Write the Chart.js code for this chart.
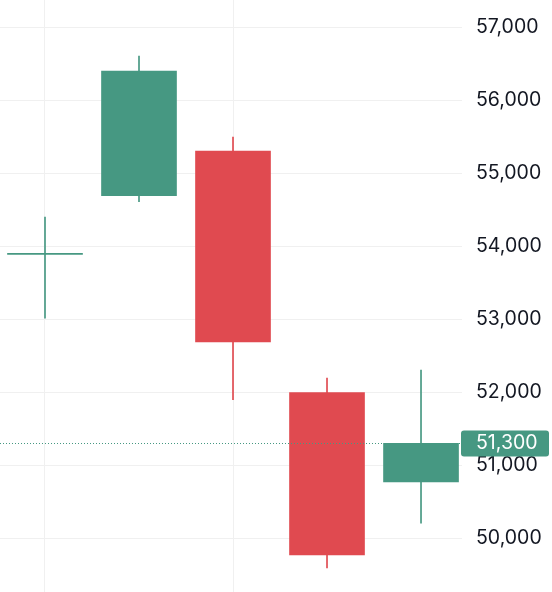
<!DOCTYPE html>
<html>
<head>
<meta charset="utf-8">
<script src="https://cdn.jsdelivr.net/npm/chart.js@4.4.1/dist/chart.umd.min.js"></script>
<style>
  html, body { margin: 0; padding: 0; background: #fff; }
  #wrap { width: 552px; height: 592px; }
</style>
</head>
<body>
<div id="wrap"><canvas id="chart"></canvas></div>
<script>
// candle data
const candleIdx = [0, 1, 2, 3, 4];
const opens  = [53890, 54693, 55305, 51996, 50771];
const highs  = [54401, 56607, 55497, 52193, 52303];
const lows   = [53014, 54611, 51899, 49593, 50208];
const closes = [53890, 56401, 52689, 49771, 51300];
const priceTicks = [50000, 51000, 52000, 53000, 54000, 55000, 56000, 57000];
const gridIdx = [0, 2];
const lastPrice = closes[closes.length - 1];

const upColor = "#469882";
const downColor = "#e04a50";
const colors = candleIdx.map(i => closes[i] >= opens[i] ? upColor : downColor);

Chart.defaults.font.family = "Inter";
Chart.defaults.font.size = 19.5;
Chart.defaults.color = "#131722";

const fmt = v => v.toLocaleString("en-US");

const lastPricePlugin = {
  id: "lastPrice",
  afterDraw(chart) {
    const { ctx, chartArea, scales: { y } } = chart;
    const py = Math.round(y.getPixelForValue(lastPrice)) + 0.5;
    ctx.save();
    ctx.strokeStyle = upColor;
    ctx.lineWidth = 1;
    ctx.setLineDash([1, 2]);
    ctx.beginPath();
    ctx.moveTo(chartArea.left, py);
    ctx.lineTo(chartArea.right, py);
    ctx.stroke();
    ctx.setLineDash([]);
    ctx.fillStyle = upColor;
    ctx.beginPath();
    ctx.roundRect(chartArea.right - 1, py - 13, 88, 26, 3);
    ctx.fill();
    ctx.fillStyle = "#fff";
    ctx.font = "19.5px Inter";
    ctx.textAlign = "left";
    ctx.textBaseline = "middle";
    ctx.fillText(fmt(lastPrice), y.left + 14, py);
    ctx.restore();
  }
};

new Chart(document.getElementById("chart"), {
  type: "bar",
  data: {
    datasets: [
      {
        label: "body",
        data: candleIdx.map(i => ({ x: i, y: [opens[i], closes[i]] })),
        backgroundColor: colors,
        barThickness: 75,
        minBarLength: 1,
        grouped: false,
        order: 0
      },
      {
        label: "wick",
        data: candleIdx.map(i => ({ x: i, y: [lows[i], highs[i]] })),
        backgroundColor: colors,
        barThickness: 1,
        grouped: false,
        order: 1
      }
    ]
  },
  options: {
    responsive: true,
    maintainAspectRatio: false,
    animation: false,
    layout: { padding: 0 },
    plugins: { legend: { display: false }, tooltip: { enabled: false } },
    scales: {
      x: {
        type: "linear",
        min: -0.4787,
        max: 4.436,
        offset: false,
        ticks: { display: false },
        grid: { color: "#f0f0f0", drawTicks: false, offset: false },
        border: { display: false },
        afterBuildTicks: s => { s.ticks = gridIdx.map(v => ({ value: v })); },
        afterFit: s => { s.paddingLeft = 0; s.paddingRight = 0; }
      },
      y: {
        position: "right",
        min: 49264,
        max: 57374,
        ticks: { padding: 14, callback: v => fmt(v) },
        grid: { color: "#f0f0f0", drawTicks: false },
        border: { display: false },
        afterBuildTicks: s => { s.ticks = priceTicks.map(v => ({ value: v })); },
        afterFit: s => { s.width = 90; s.paddingTop = 0; s.paddingBottom = 0; }
      }
    }
  },
  plugins: [lastPricePlugin]
});
</script>
</body>
</html>
